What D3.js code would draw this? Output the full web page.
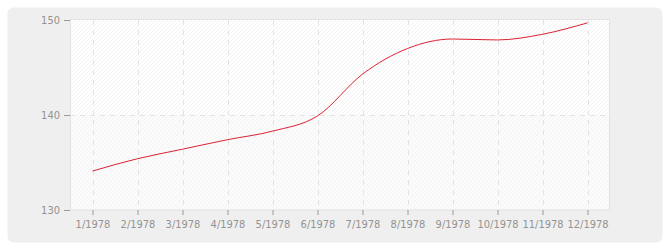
<!DOCTYPE html>
<html>
<head>
<meta charset="utf-8">
<script src="https://cdn.jsdelivr.net/npm/d3@7"></script>
<style>
body { margin: 0; background: #fff; }
#container { width: 670px; height: 250px; }
</style>
</head>
<body>
<div id="container"></div>
<script>
// chart data
var months = ["1/1978", "2/1978", "3/1978", "4/1978", "5/1978", "6/1978",
	"7/1978", "8/1978", "9/1978", "10/1978", "11/1978", "12/1978"];
var values = [134.1, 135.4, 136.4, 137.4, 138.3, 139.9, 144.3, 147.0, 148.0, 147.9, 148.5, 149.7];
var yTicks = [130, 140, 150];

var gWidth = 670, gHeight = 250;
var plotLeft = 70, plotRight = 610, plotTop = 20, plotBottom = 210;
var labelFont = "'DejaVu Sans Condensed', 'DejaVu Sans', sans-serif";

var svg = d3.select("#container").append("svg")
	.attr("width", gWidth)
	.attr("height", gHeight);

// hatch patterns for the plot background
var defs = svg.append("defs");
function hatch(id, bg, stroke)
{
	var p = defs.append("pattern")
		.attr("id", id)
		.attr("patternUnits", "userSpaceOnUse")
		.attr("width", 4)
		.attr("height", 4);
	p.append("rect").attr("width", 4).attr("height", 4).attr("fill", bg);
	p.append("path")
		.attr("d", "M-1,1 l2,-2 M0,4 l4,-4 M3,5 l2,-2")
		.attr("stroke", stroke)
		.attr("stroke-width", 0.8);
}
hatch("hatchTop", "#ffffff", "#f0f0f0");
hatch("hatchBottom", "#fbfbfb", "#f3f3f3");

// outer panel
svg.append("rect")
	.attr("x", 7.5).attr("y", 7.5)
	.attr("width", 655).attr("height", 235)
	.attr("rx", 6).attr("ry", 6)
	.attr("fill", "#efefef");

var x = d3.scalePoint()
	.domain(months)
	.range([plotLeft, plotRight])
	.padding(0.5);

var y = d3.scaleLinear()
	.domain([130, 150])
	.range([plotBottom, plotTop]);

// plot background, two bands
svg.append("rect")
	.attr("x", plotLeft).attr("y", y(150))
	.attr("width", plotRight - plotLeft).attr("height", y(140) - y(150))
	.attr("fill", "url(#hatchTop)");
svg.append("rect")
	.attr("x", plotLeft).attr("y", y(140))
	.attr("width", plotRight - plotLeft).attr("height", y(130) - y(140))
	.attr("fill", "url(#hatchBottom)");

// plot border
svg.append("rect")
	.attr("x", plotLeft + 0.5).attr("y", plotTop - 0.5)
	.attr("width", plotRight - plotLeft - 1).attr("height", plotBottom - plotTop + 0.5)
	.attr("fill", "none")
	.attr("stroke", "#e2e2e2");

// grid lines
svg.selectAll(".xGrid").data(months).enter().append("line")
	.attr("class", "xGrid")
	.attr("x1", function(d) { return Math.round(x(d)) + 0.5; })
	.attr("x2", function(d) { return Math.round(x(d)) + 0.5; })
	.attr("y1", plotTop)
	.attr("y2", plotBottom)
	.attr("stroke", "#e3e3e3")
	.attr("stroke-dasharray", "5,5");

svg.selectAll(".yGrid").data([140]).enter().append("line")
	.attr("class", "yGrid")
	.attr("x1", plotLeft)
	.attr("x2", plotRight)
	.attr("y1", function(d) { return Math.round(y(d)) + 0.5; })
	.attr("y2", function(d) { return Math.round(y(d)) + 0.5; })
	.attr("stroke", "#e3e3e3")
	.attr("stroke-dasharray", "5,5");

// axes
var xAxis = svg.append("g")
	.attr("transform", "translate(0," + plotBottom + ")")
	.call(d3.axisBottom(x).tickSize(5).tickPadding(5));
var yAxis = svg.append("g")
	.attr("transform", "translate(" + plotLeft + ",0)")
	.call(d3.axisLeft(y).tickValues(yTicks).tickSize(6).tickPadding(4));

[xAxis, yAxis].forEach(function(a)
{
	a.select(".domain").remove();
	a.selectAll(".tick line").attr("stroke", "#999");
	a.selectAll(".tick text")
		.attr("fill", "#939393")
		.style("font-family", labelFont)
		.style("font-size", "11px");
});

// the line
var line = d3.line()
	.x(function(d, i) { return x(months[i]); })
	.y(function(d) { return y(d); })
	.curve(d3.curveMonotoneX);

svg.append("path")
	.datum(values)
	.attr("d", line)
	.attr("fill", "none")
	.attr("stroke", "#dd2233")
	.attr("stroke-width", 1);
</script>
</body>
</html>
